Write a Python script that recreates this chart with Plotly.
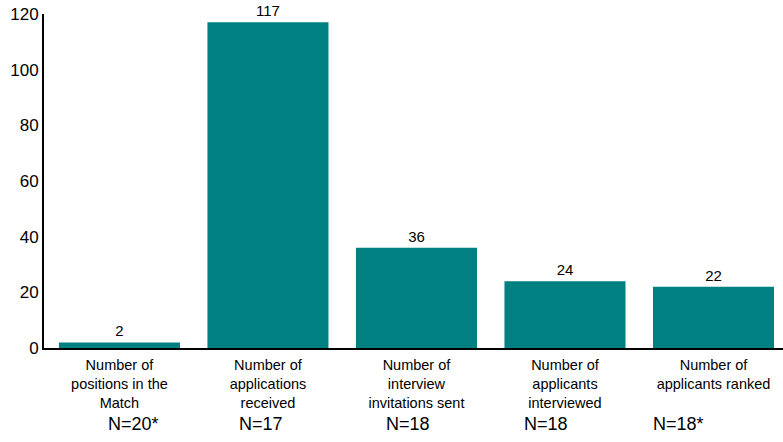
import plotly.graph_objects as go

# Data
categories = [
    "Number of<br>positions in the<br>Match",
    "Number of<br>applications<br>received",
    "Number of<br>interview<br>invitations sent",
    "Number of<br>applicants<br>interviewed",
    "Number of<br>applicants ranked",
]
values = [2, 117, 36, 24, 22]
n_labels = ["N=20*", "N=17", "N=18", "N=18", "N=18*"]
n_offsets = [-0.09, -0.21, -0.22, -0.29, -0.42]

font = "Liberation Sans, Arial, sans-serif"

fig = go.Figure(
    go.Bar(
        x=list(range(len(categories))),
        y=values,
        text=values,
        textposition="outside",
        textfont=dict(size=15, color="#000000", family=font),
        marker=dict(color="#008080", line=dict(width=0)),
        cliponaxis=False,
    )
)

# N= labels under the category names
for i, (lab, off) in enumerate(zip(n_labels, n_offsets)):
    fig.add_annotation(
        x=i + off, y=-(424 - 348) / (442 - 14 - 94), xref="x", yref="paper",
        text=lab, showarrow=False,
        xanchor="left", yanchor="middle",
        font=dict(size=18, color="#000000", family=font),
    )

fig.update_layout(
    width=783, height=442,
    margin=dict(l=44, r=0, t=14, b=94, autoexpand=False),
    plot_bgcolor="white", paper_bgcolor="white",
    bargap=0.185, showlegend=False,
    font=dict(family=font, color="#000000"),
)
fig.update_xaxes(
    tickmode="array", tickvals=list(range(len(categories))), ticktext=categories,
    tickfont=dict(size=14.5, family=font), range=[-0.508, 4.468],
    ticklabelstandoff=3,
    showline=True, linecolor="#000000", linewidth=2,
    showgrid=False, ticks="", zeroline=False, automargin=False,
)
fig.update_yaxes(
    range=[0, 120], dtick=20, tickfont=dict(size=17, family=font),
    showline=True, linecolor="#000000", linewidth=2,
    showgrid=False, ticks="", zeroline=False, automargin=False,
)

fig.write_html(
    "out.html",
    config={"displayModeBar": False},
    post_script="document.body.style.margin='0px';",
)
